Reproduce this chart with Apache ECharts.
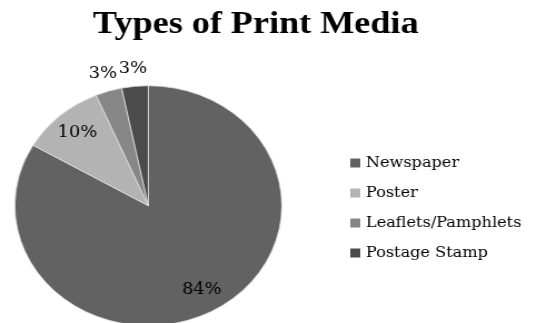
<!DOCTYPE html>
<html>
<head>
<meta charset="utf-8">
<script src="https://cdn.jsdelivr.net/npm/echarts@6/dist/echarts.min.js"></script>
<style>
html,body{margin:0;padding:0;background:#fff;overflow:hidden;}
#c{width:481px;height:323px;transform:scaleX(1.112);transform-origin:0 0;}
</style>
</head>
<body>
<div id="c"></div>
<script>
var categories = ['Newspaper', 'Poster', 'Leaflets/Pamphlets', 'Postage Stamp'];
var values = [83.4, 10.2, 3.2, 3.2];
var colors = ['#626262', '#b3b3b3', '#878787', '#4b4b4b'];
var insideLabelled = ['Newspaper', 'Poster'];

var chart = echarts.init(document.getElementById('c'), null, {renderer: 'canvas'});

function buildData(visibleFn) {
  return categories.map(function (name, i) {
    return {name: name, value: values[i], label: {show: visibleFn(name)}};
  });
}

var center = [133.4, 205.7];
var labelStyle = {
  formatter: '{d}%', position: 'inside', color: '#000',
  fontFamily: 'DejaVu Serif', fontSize: 16, fontWeight: 'normal', rotate: 0
};

chart.setOption({
  animation: false,
  backgroundColor: '#fff',
  color: colors,
  title: {
    text: 'Types of Print Media',
    left: 225, top: 3.5, textAlign: 'center',
    textStyle: {fontFamily: 'Liberation Serif', fontWeight: 'bold', fontSize: 32.5, color: '#000'}
  },
  legend: {
    orient: 'vertical', left: 315, top: 154, padding: 0,
    data: categories, icon: 'rect', itemWidth: 9, itemHeight: 9, itemGap: 12,
    itemStyle: {borderWidth: 0},
    textStyle: {fontFamily: 'DejaVu Serif', fontSize: 14.5, color: '#000', lineHeight: 18},
    selectedMode: false
  },
  series: [
    {
      type: 'pie', center: center, radius: [0, 120], startAngle: 90, clockwise: true,
      percentPrecision: 0, silent: true,
      label: {show: false}, labelLine: {show: false},
      itemStyle: {borderColor: '#e0e0e0', borderWidth: 0.8},
      data: categories.map(function (n, i) { return {name: n, value: values[i]}; })
    },
    {
      type: 'pie', center: center, radius: [67, 120], startAngle: 90, clockwise: true,
      percentPrecision: 0, silent: true,
      itemStyle: {color: 'rgba(0,0,0,0)', borderWidth: 0},
      label: labelStyle, labelLine: {show: false},
      data: buildData(function (n) { return insideLabelled.indexOf(n) >= 0; })
    },
    {
      type: 'pie', center: center, radius: [120, 150], startAngle: 90, clockwise: true,
      percentPrecision: 0, silent: true,
      itemStyle: {color: 'rgba(0,0,0,0)', borderWidth: 0},
      label: labelStyle, labelLine: {show: false},
      data: buildData(function (n) { return insideLabelled.indexOf(n) < 0; })
    }
  ]
});
</script>
</body>
</html>
